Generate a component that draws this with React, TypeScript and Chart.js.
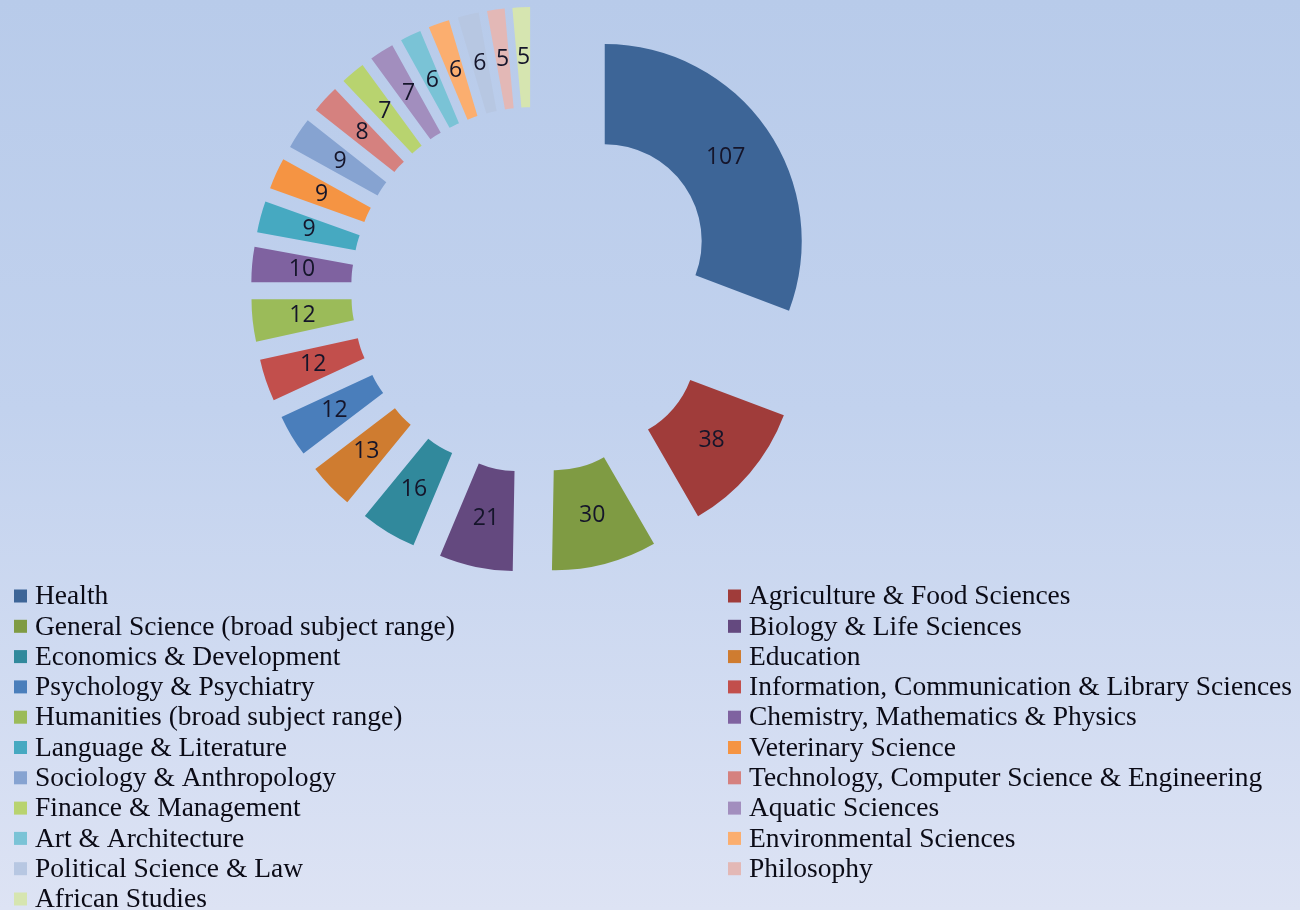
import React, { useEffect, useRef } from 'react';
import { Chart, registerables } from 'chart.js';

Chart.register(...registerables);

const categories = [
  'Health',
  'Agriculture & Food Sciences',
  'General Science (broad subject range)',
  'Biology & Life Sciences',
  'Economics & Development',
  'Education',
  'Psychology & Psychiatry',
  'Information, Communication & Library Sciences',
  'Humanities (broad subject range)',
  'Chemistry, Mathematics & Physics',
  'Language & Literature',
  'Veterinary Science',
  'Sociology & Anthropology',
  'Technology, Computer Science & Engineering',
  'Finance & Management',
  'Aquatic Sciences',
  'Art & Architecture',
  'Environmental Sciences',
  'Political Science & Law',
  'Philosophy',
  'African Studies',
];

const values = [107, 38, 30, 21, 16, 13, 12, 12, 12, 10, 9, 9, 9, 8, 7, 7, 6, 6, 6, 5, 5];

const colors = [
  '#3D6597', '#A03C3A', '#7F9B43', '#64497F', '#31899C', '#CF7C30',
  '#4A7EBB', '#C24F4C', '#9BBB59', '#7F62A0', '#46A9C1', '#F59443',
  '#86A3D1', '#D5817F', '#B8D36F', '#A28EBE', '#7AC3D6', '#FBAE6F',
  '#B7C7E2', '#E3B8B6', '#D6E5B0',
];

const explodePlugin = {
  id: 'explode',
  afterUpdate(chart: any) {
    const d = chart.options.plugins.explode?.distance ?? 0;
    const meta = chart.getDatasetMeta(0);
    meta.data.forEach((arc: any) => {
      const mid = (arc.startAngle + arc.endAngle) / 2;
      arc.x += Math.cos(mid) * d;
      arc.y += Math.sin(mid) * d;
    });
  },
};

const valueLabelPlugin = {
  id: 'valueLabels',
  afterDatasetsDraw(chart: any) {
    const ctx = chart.ctx;
    const meta = chart.getDatasetMeta(0);
    const data = chart.data.datasets[0].data;
    ctx.save();
    ctx.font = '23px "Open Sans"';
    ctx.fillStyle = '#15152a';
    ctx.textAlign = 'center';
    ctx.textBaseline = 'middle';
    meta.data.forEach((arc: any, i: number) => {
      const p = arc.getCenterPoint();
      ctx.fillText(String(data[i]), p.x, p.y);
    });
    ctx.restore();
  },
};

const gridLegendPlugin = {
  id: 'gridLegend',
  afterDraw(chart: any) {
    const opts = chart.options.plugins.gridLegend;
    const ctx = chart.ctx;
    const labels = chart.data.labels as string[];
    const bg = chart.data.datasets[0].backgroundColor as string[];
    ctx.save();
    ctx.font = '27.5px "Liberation Serif"';
    ctx.textBaseline = 'middle';
    ctx.textAlign = 'left';
    labels.forEach((lab, i) => {
      const col = i % 2;
      const row = Math.floor(i / 2);
      const bx = opts.colX[col];
      const cy = opts.top + row * opts.rowH;
      ctx.fillStyle = bg[i];
      ctx.fillRect(bx, cy - opts.box / 2, opts.box, opts.box);
      ctx.fillStyle = '#0b0b16';
      ctx.fillText(lab, bx + opts.box + 8, cy + 1);
    });
    ctx.restore();
  },
};

export default function App() {
  const ref = useRef<HTMLCanvasElement | null>(null);

  useEffect(() => {
    document.body.style.margin = '0';
    const canvas = ref.current;
    if (!canvas) return;
    const chart = new Chart(canvas, {
      type: 'doughnut',
      data: {
        labels: categories,
        datasets: [
          {
            data: values,
            backgroundColor: colors,
            borderWidth: 0,
            clip: false as any,
          },
        ],
      },
      options: {
        responsive: false,
        animation: false,
        radius: 197,
        cutout: '49.2%',
        layout: { padding: { left: 0, top: 0, right: 232, bottom: 330 } },
        plugins: {
          legend: { display: false },
          tooltip: { enabled: false },
          explode: { distance: 86 },
          gridLegend: { colX: [14, 728], top: 596, rowH: 30.3, box: 13 },
        } as any,
      },
      plugins: [explodePlugin, valueLabelPlugin, gridLegendPlugin],
    });
    return () => chart.destroy();
  }, []);

  return (
    <div
      style={{
        position: 'fixed',
        left: 0,
        top: 0,
        width: 1300,
        height: 910,
        background: 'linear-gradient(to bottom, #B8CBEA 0%, #C2D2EE 45%, #DDE3F4 100%)',
      }}
    >
      <canvas ref={ref} width={1300} height={910} style={{ display: 'block' }} />
    </div>
  );
}
